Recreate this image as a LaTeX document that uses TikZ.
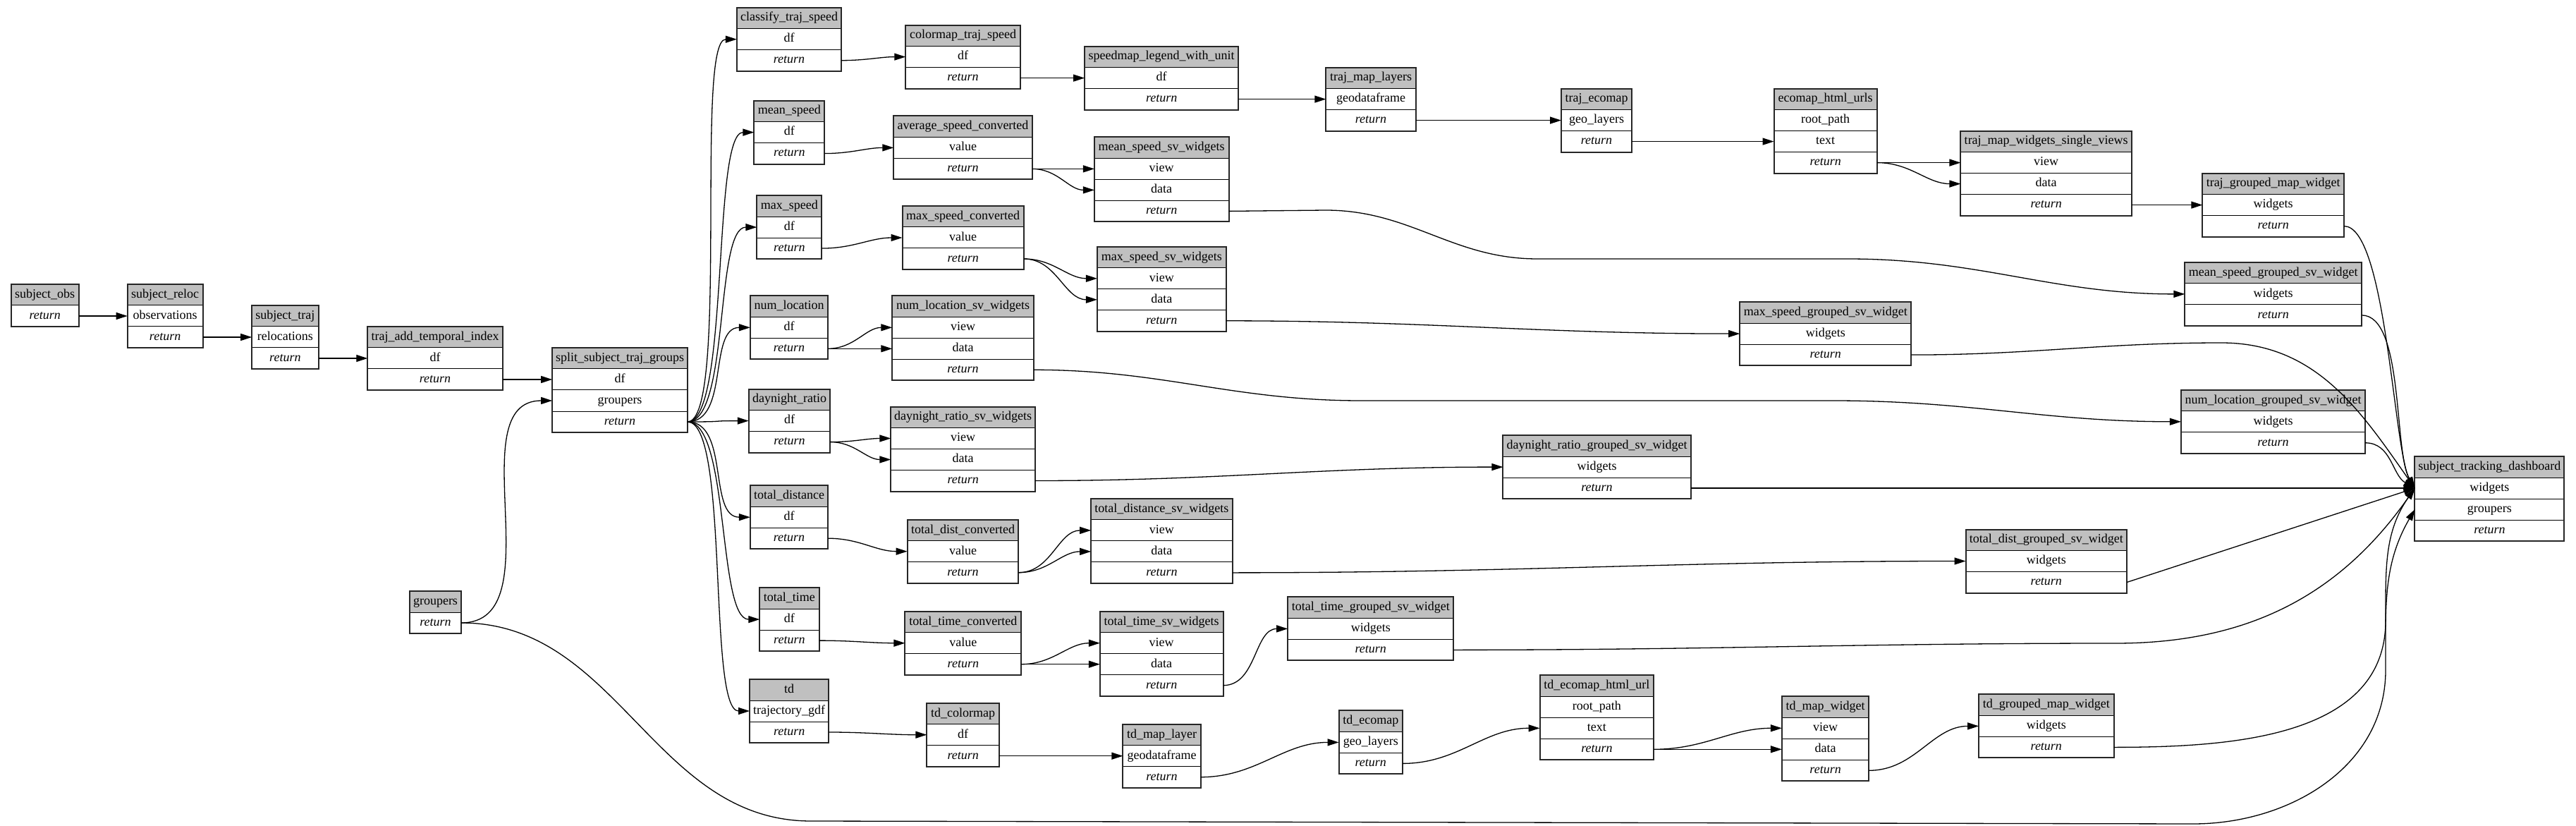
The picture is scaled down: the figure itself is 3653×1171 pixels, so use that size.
\documentclass[tikz,border=0pt]{standalone}
\usepackage{fontspec}
\setmainfont{Liberation Serif}
\usetikzlibrary{arrows.meta}
\definecolor{hdgray}{RGB}{192,192,192}

% name, centre x, top y, width, title, rows (id/text)
\newcommand\task[6]{%
  \node[taskhead, minimum width={#4*0.5pt}] (#1) at (#2,#3) {#5};
  \foreach \pid/\txt [count=\rowno] in {#6}
    \node[taskrow, minimum width={#4*0.5pt}] (#1-\pid) at (#2,{#3+\rowno*30}) {\txt};
  \draw[taskframe] (#1.north west) rectangle (#1-ret.south east);
}

\begin{document}
\begin{tikzpicture}[x=0.5pt, y=-0.5pt,
    taskhead/.style={draw, line width=0.5pt, fill=hdgray, anchor=north, minimum height=15pt,
      inner xsep=1pt, inner ysep=0pt, outer sep=0pt, text height=6.3pt, text depth=2pt,
      font=\fontsize{9}{10}\selectfont},
    taskrow/.style={taskhead, fill=white},
    taskframe/.style={draw=black!85, line width=1pt},
    link/.style={-{Triangle[length=8pt, width=5pt]}, line width=0.65pt, out=0, in=180}]
\useasboundingbox (0,0) rectangle (3653,1171);

\task{sobs}{63.7}{403}{95.7}{subject\_obs}{ret/\textit{return}}
\task{sreloc}{234.1}{403}{106.8}{subject\_reloc}{obs/observations,ret/\textit{return}}
\task{straj}{404.4}{433}{94.5}{subject\_traj}{reloc/relocations,ret/\textit{return}}
\task{tadd}{617}{463}{191.5}{traj\_add\_temporal\_index}{df/df,ret/\textit{return}}
\task{grp}{617.5}{838}{73}{groupers}{ret/\textit{return}}
\task{split}{879}{493}{191.7}{split\_subject\_traj\_groups}{df/df,grp/groupers,ret/\textit{return}}

\task{csp}{1119}{10.7}{148.3}{classify\_traj\_speed}{df/df,ret/\textit{return}}
\task{mspd}{1119.4}{142.6}{100}{mean\_speed}{df/df,ret/\textit{return}}
\task{xspd}{1119.4}{277.1}{92.1}{max\_speed}{df/df,ret/\textit{return}}
\task{nloc}{1119}{419.3}{110.3}{num\_location}{df/df,ret/\textit{return}}
\task{dnr}{1119.5}{551.6}{115.5}{daynight\_ratio}{df/df,ret/\textit{return}}
\task{tdist}{1119}{688.2}{110.3}{total\_distance}{df/df,ret/\textit{return}}
\task{ttime}{1119.4}{833.1}{84.2}{total\_time}{df/df,ret/\textit{return}}
\task{td}{1119.2}{963}{112.3}{td}{traj/trajectory\_gdf,ret/\textit{return}}

\task{cmts}{1365.5}{35.6}{162.5}{colormap\_traj\_speed}{df/df,ret/\textit{return}}
\task{avgc}{1365.5}{164.4}{196.5}{average\_speed\_converted}{val/value,ret/\textit{return}}
\task{maxc}{1365.7}{292}{172.4}{max\_speed\_converted}{val/value,ret/\textit{return}}
\task{nlsv}{1365.5}{419.3}{200.5}{num\_location\_sv\_widgets}{view/view,data/data,ret/\textit{return}}
\task{dnsv}{1365.7}{576.5}{204.8}{daynight\_ratio\_sv\_widgets}{view/view,data/data,ret/\textit{return}}
\task{tdc}{1365.5}{736.7}{157.8}{total\_dist\_converted}{val/value,ret/\textit{return}}
\task{ttc}{1365.9}{866.7}{164.9}{total\_time\_converted}{val/value,ret/\textit{return}}
\task{tdcm}{1365.7}{996.7}{102.8}{td\_colormap}{df/df,ret/\textit{return}}

\task{sleg}{1647.2}{65.6}{218.2}{speedmap\_legend\_with\_unit}{df/df,ret/\textit{return}}
\task{mssv}{1647.2}{194.4}{190.6}{mean\_speed\_sv\_widgets}{view/view,data/data,ret/\textit{return}}
\task{xssv}{1647.3}{349.8}{182.7}{max\_speed\_sv\_widgets}{view/view,data/data,ret/\textit{return}}
\task{tdsv}{1647.4}{706.9}{200.4}{total\_distance\_sv\_widgets}{view/view,data/data,ret/\textit{return}}
\task{ttsv}{1647.2}{866.7}{174.8}{total\_time\_sv\_widgets}{view/view,data/data,ret/\textit{return}}
\task{tdml}{1647.5}{1026.7}{110.3}{td\_map\_layer}{geo/geodataframe,ret/\textit{return}}

\task{tml}{1944}{95.6}{127.3}{traj\_map\_layers}{geo/geodataframe,ret/\textit{return}}
\task{ttg}{1943.8}{846.4}{235.3}{total\_time\_grouped\_sv\_widget}{wid/widgets,ret/\textit{return}}
\task{tdeco}{1943.8}{1007.4}{90.5}{td\_ecomap}{geo/geo\_layers,ret/\textit{return}}

\task{teco}{2264}{125.6}{100}{traj\_ecomap}{geo/geo\_layers,ret/\textit{return}}
\task{dng}{2264.5}{617.1}{266.1}{daynight\_ratio\_grouped\_sv\_widget}{wid/widgets,ret/\textit{return}}
\task{tdurl}{2264.4}{957.3}{161.8}{td\_ecomap\_html\_url}{root/root\_path,text/text,ret/\textit{return}}

\task{ehu}{2588.7}{125.6}{146.3}{ecomap\_html\_urls}{root/root\_path,text/text,ret/\textit{return}}
\task{xsg}{2588.8}{428.1}{243.2}{max\_speed\_grouped\_sv\_widget}{wid/widgets,ret/\textit{return}}
\task{tdmw}{2588.6}{987.3}{123.4}{td\_map\_widget}{view/view,data/data,ret/\textit{return}}

\task{tmws}{2901.7}{185.6}{242.5}{traj\_map\_widgets\_single\_views}{view/view,data/data,ret/\textit{return}}
\task{tdg}{2901.8}{750.5}{228.5}{total\_dist\_grouped\_sv\_widget}{wid/widgets,ret/\textit{return}}
\task{tdgm}{2901.8}{984.4}{191.4}{td\_grouped\_map\_widget}{wid/widgets,ret/\textit{return}}

\task{tgm}{3223.7}{245.6}{200.7}{traj\_grouped\_map\_widget}{wid/widgets,ret/\textit{return}}
\task{msg}{3223.7}{371.9}{250.7}{mean\_speed\_grouped\_sv\_widget}{wid/widgets,ret/\textit{return}}
\task{nlg}{3223.5}{552.8}{261.1}{num\_location\_grouped\_sv\_widget}{wid/widgets,ret/\textit{return}}

\task{dash}{3530.4}{647.1}{212}{subject\_tracking\_dashboard}{wid/widgets,grp/groupers,ret/\textit{return}}

\path[link]
  (sobs-ret.east) edge (sreloc-obs.west)
  (sreloc-ret.east) edge (straj-reloc.west)
  (straj-ret.east) edge (tadd-df.west)
  (tadd-ret.east) edge (split-df.west)
  (grp-ret.east) edge (split-grp.west)
  (split-ret.east) edge[distance=30pt] (csp-df.west)
  (split-ret.east) edge[distance=30pt] (mspd-df.west)
  (split-ret.east) edge[distance=30pt] (xspd-df.west)
  (split-ret.east) edge[distance=30pt] (nloc-df.west)
  (split-ret.east) edge[distance=30pt] (dnr-df.west)
  (split-ret.east) edge[distance=30pt] (tdist-df.west)
  (split-ret.east) edge[distance=30pt] (ttime-df.west)
  (split-ret.east) edge[distance=30pt] (td-traj.west)
  (csp-ret.east) edge (cmts-df.west)
  (cmts-ret.east) edge (sleg-df.west)
  (sleg-ret.east) edge (tml-geo.west)
  (tml-ret.east) edge (teco-geo.west)
  (teco-ret.east) edge (ehu-text.west)
  (ehu-ret.east) edge (tmws-view.west)
  (ehu-ret.east) edge (tmws-data.west)
  (tmws-ret.east) edge (tgm-wid.west)
  (mspd-ret.east) edge (avgc-val.west)
  (avgc-ret.east) edge (mssv-view.west)
  (avgc-ret.east) edge (mssv-data.west)
  (xspd-ret.east) edge (maxc-val.west)
  (maxc-ret.east) edge (xssv-view.west)
  (maxc-ret.east) edge (xssv-data.west)
  (xssv-ret.east) edge (xsg-wid.west)
  (nloc-ret.east) edge (nlsv-view.west)
  (nloc-ret.east) edge (nlsv-data.west)
  (dnr-ret.east) edge (dnsv-view.west)
  (dnr-ret.east) edge (dnsv-data.west)
  (dnsv-ret.east) edge (dng-wid.west)
  (tdist-ret.east) edge (tdc-val.west)
  (tdc-ret.east) edge (tdsv-view.west)
  (tdc-ret.east) edge (tdsv-data.west)
  (tdsv-ret.east) edge (tdg-wid.west)
  (ttime-ret.east) edge (ttc-val.west)
  (ttc-ret.east) edge (ttsv-view.west)
  (ttc-ret.east) edge (ttsv-data.west)
  (ttsv-ret.east) edge (ttg-wid.west)
  (td-ret.east) edge (tdcm-df.west)
  (tdcm-ret.east) edge (tdml-geo.west)
  (tdml-ret.east) edge (tdeco-geo.west)
  (tdeco-ret.east) edge (tdurl-text.west)
  (tdurl-ret.east) edge (tdmw-view.west)
  (tdurl-ret.east) edge (tdmw-data.west)
  (tdmw-ret.east) edge (tdgm-wid.west)
  (dng-ret.east) edge (dash-wid.west)
  (nlg-ret.east) edge[in=150] (dash-wid.west)
  (tgm-ret.east) edge[distance=30pt, in=120] (dash-wid.west)
  (msg-ret.east) edge[distance=30pt, in=120] (dash-wid.west);

% long routes
\draw[link] (mssv-ret.east) -- (1880,298) to (2180,367) -- (2620,367) to (msg-wid.west);
\draw[link] (nlsv-ret.east) to (1930,568) -- (2600,568) to (nlg-wid.west);
\draw[link] (tdg-ret.east) -- (dash-wid.west);
\draw[link] (xsg-ret.east) to (3150,486) to[in=125] (dash-wid.west);
\draw[link] (ttg-ret.east) to (3000,912) to[in=235] (dash-wid.west);
\draw[link] (tdgm-ret.east) to[in=270] (3383,880) to[out=90, in=235] (dash-wid.west);
\draw[link] (grp-ret.east) to (1150,1164) -- (3110,1168) to[in=270] (3383,950) to[out=90, in=240] (dash-grp.west);
\end{tikzpicture}
\end{document}
